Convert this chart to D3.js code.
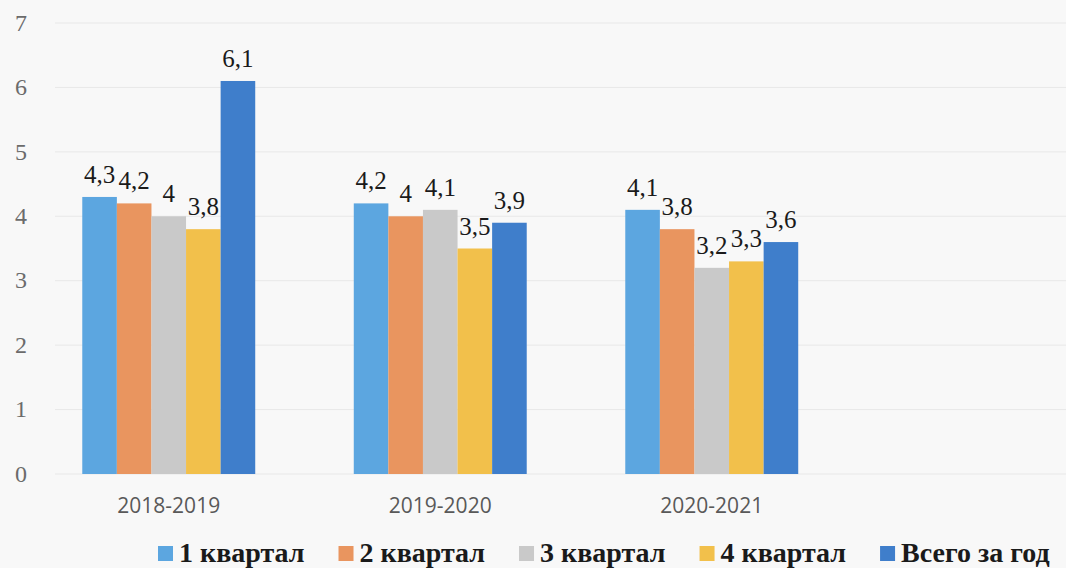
<!DOCTYPE html>
<html>
<head>
<meta charset="utf-8">
<script src="https://cdn.jsdelivr.net/npm/d3@7"></script>
</head>
<body style="margin:0;background:#f8f8f8">
<svg id="chart" width="1066" height="568"></svg>
<script>
const categories = ["2018-2019", "2019-2020", "2020-2021"];
const seriesNames = ["1 квартал", "2 квартал", "3 квартал", "4 квартал", "Всего за год"];
const q1 = [4.3, 4.2, 4.1];
const q2 = [4.2, 4.0, 3.8];
const q3 = [4.0, 4.1, 3.2];
const q4 = [3.8, 3.5, 3.3];
const total = [6.1, 3.9, 3.6];
const yTicks = [0, 1, 2, 3, 4, 5, 6, 7];
const colors = ["#5ca6e0", "#e9955f", "#c9c9c9", "#f2c04b", "#3f7ecb"];

const seriesValues = [q1, q2, q3, q4, total];

const svg = d3.select("#chart");
const W = 1066, H = 568;
svg.append("rect").attr("width", W).attr("height", H).attr("fill", "#f8f8f8");

const y = d3.scaleLinear().domain([0, 7]).range([474, 23]);
const x0 = d3.scaleBand().domain(categories).range([33, 847.5]).paddingInner(0.363).paddingOuter(0.1815);
const x1 = d3.scaleBand().domain(seriesNames).range([0, x0.bandwidth()]).padding(0);

svg.append("g").selectAll("line").data(yTicks).join("line")
  .attr("x1", 55).attr("x2", W)
  .attr("y1", d => y(d)).attr("y2", d => y(d))
  .attr("stroke", "#e8e8e8").attr("stroke-width", 1);

// y axis tick labels
svg.append("g").selectAll("text").data(yTicks).join("text")
  .attr("x", 27).attr("y", d => y(d)).attr("dy", "0.32em")
  .attr("text-anchor", "end")
  .style("font-family", '"Liberation Serif"').style("font-size", "24px")
  .style("fill", "#6b6b6b")
  .text(d => d);

// x axis
svg.append("g").selectAll("text").data(categories).join("text")
  .attr("x", d => x0(d) + x0.bandwidth() / 2).attr("y", 513)
  .attr("text-anchor", "middle")
  .style("font-family", '"Open Sans"').style("font-size", "21px")
  .style("fill", "#595959")
  .text(d => d);

const data = [];
categories.forEach((c, i) => {
  seriesNames.forEach((s, j) => {
    data.push({ cat: c, series: s, value: seriesValues[j][i], color: colors[j] });
  });
});

svg.append("g").selectAll("rect").data(data).join("rect")
  .attr("x", d => x0(d.cat) + x1(d.series))
  .attr("y", d => y(d.value))
  .attr("width", x1.bandwidth())
  .attr("height", d => y(0) - y(d.value))
  .attr("fill", d => d.color);

const fmt = v => String(v).replace(".", ",");
data.forEach(d => {
  svg.append("text")
    .attr("x", x0(d.cat) + x1(d.series) + x1.bandwidth() / 2)
    .attr("y", y(d.value) - 14)
    .attr("text-anchor", "middle")
    .style("font-family", '"Liberation Serif"').style("font-size", "25px")
    .style("fill", "#1a1a1a")
    .text(fmt(d.value));
});

let lx = 158;
seriesNames.forEach((s, j) => {
  svg.append("rect").attr("x", lx).attr("y", 546).attr("width", 15).attr("height", 15).attr("fill", colors[j]);
  const t = svg.append("text")
    .attr("x", lx + 21).attr("y", 562)
    .style("font-family", '"Liberation Serif"').style("font-size", "28px").style("font-weight", "bold")
    .style("fill", "#1a1a1a")
    .text(s);
  lx += 21 + t.node().getComputedTextLength() + 34;
});
</script>
</body>
</html>
